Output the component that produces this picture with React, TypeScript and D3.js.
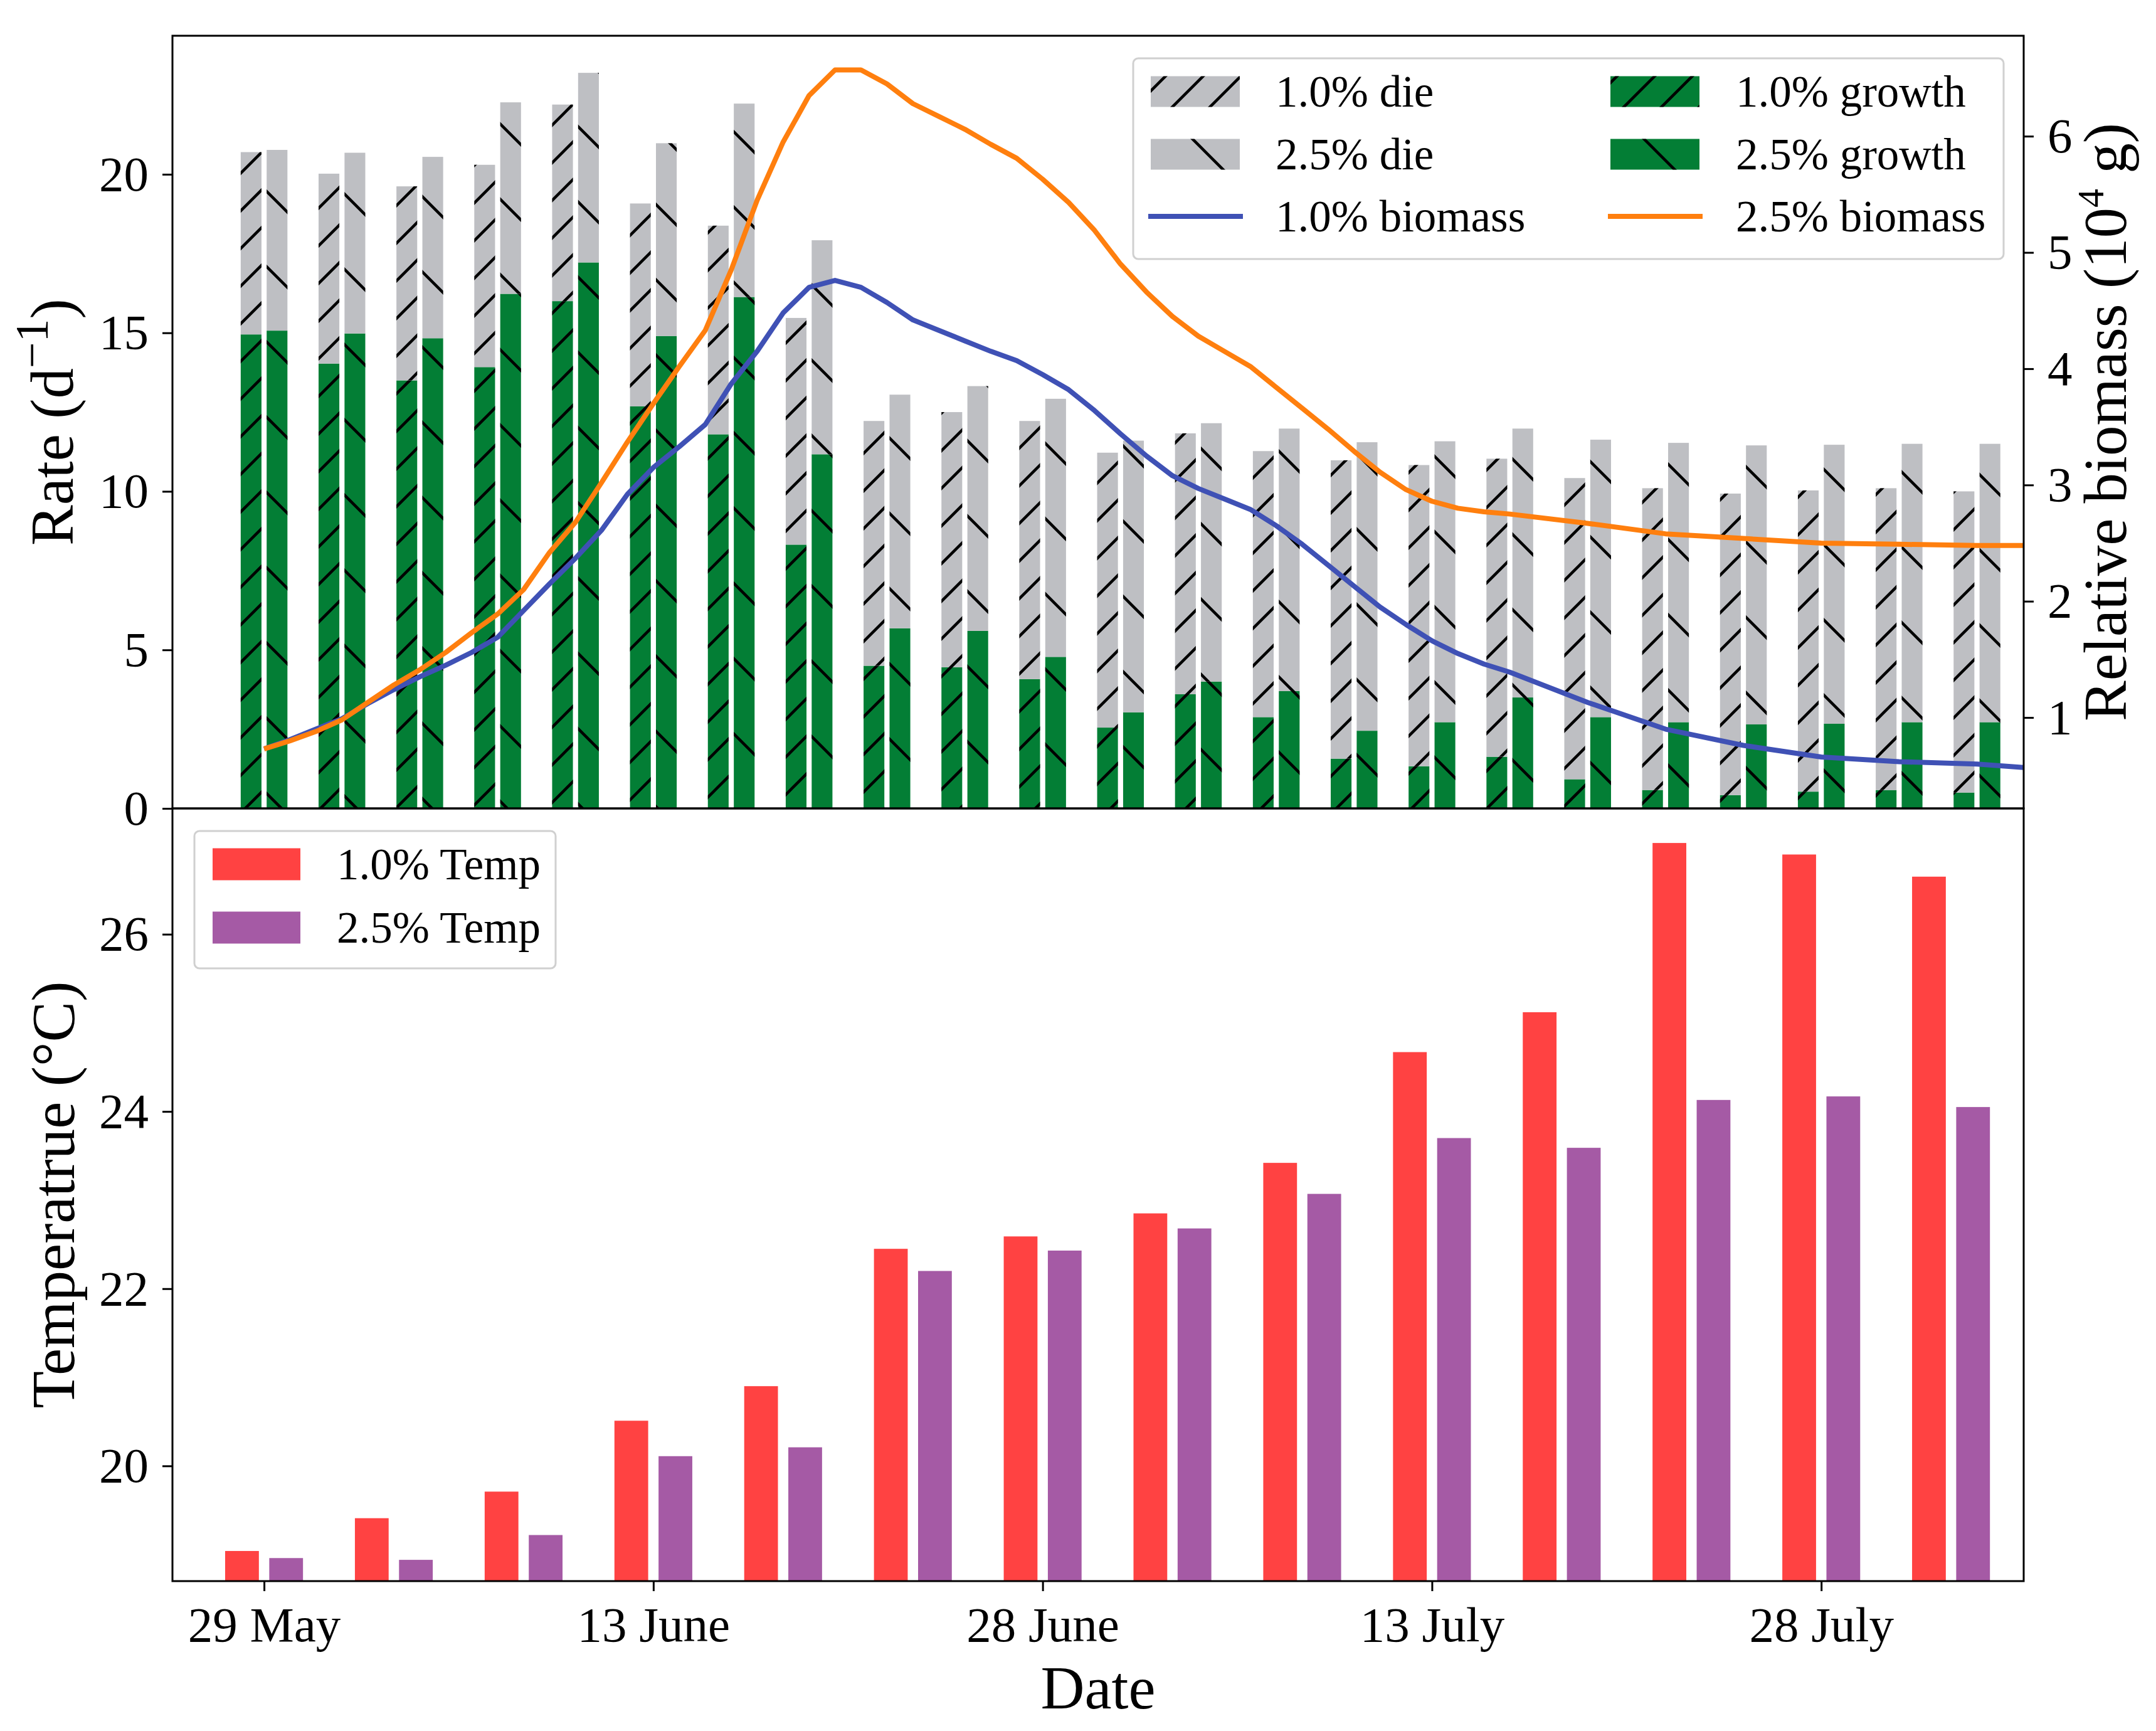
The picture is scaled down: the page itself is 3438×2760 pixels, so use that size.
import * as d3 from 'd3';
import { useEffect, useRef } from 'react';

// days after 29 May for the rate bars (one pair every 3 days)
const rateDays = [0, 3, 6, 9, 12, 15, 18, 21, 24, 27, 30, 33, 36, 39, 42, 45, 48, 51, 54, 57, 60, 63, 66];
const growth10 = [14.95, 14.03, 13.5, 13.92, 16.0, 12.68, 11.8, 8.32, 4.5, 4.45, 4.08, 2.55, 3.6, 2.88, 1.57, 1.33, 1.63, 0.92, 0.58, 0.42, 0.53, 0.58, 0.5];
const die10 = [5.75, 5.99, 6.12, 6.38, 6.2, 6.4, 6.58, 7.15, 7.72, 8.05, 8.14, 8.67, 8.23, 8.39, 9.41, 9.5, 9.4, 9.5, 9.52, 9.51, 9.5, 9.52, 9.5];
const growth25 = [15.07, 14.98, 14.83, 16.23, 17.22, 14.9, 16.13, 11.17, 5.68, 5.6, 4.78, 3.03, 4.0, 3.7, 2.45, 2.72, 3.5, 2.88, 2.72, 2.65, 2.67, 2.72, 2.72];
const die25 = [5.7, 5.7, 5.72, 6.04, 5.98, 6.08, 6.1, 6.75, 7.37, 7.72, 8.14, 8.57, 8.15, 8.28, 9.1, 8.86, 8.48, 8.75, 8.81, 8.8, 8.8, 8.78, 8.78];

// relative biomass (10^4 g)
const bioDays = [
  0, 1, 2, 3, 4, 5, 6, 7, 8, 9, 10, 11, 12, 13, 14, 15, 16, 17, 18, 19, 20, 21, 22, 23, 24,
  25, 26, 27, 28, 29, 30, 31, 32, 33, 34, 35, 36, 37, 38, 39, 40, 41, 42, 43, 44, 45, 46, 47, 48,
  51, 54, 57, 60, 63, 66, 67.8,
];
const bio10 = [
  0.73, 0.81, 0.9, 0.99, 1.12, 1.24, 1.35, 1.45, 1.56, 1.69, 1.92, 2.15, 2.37, 2.61, 2.92, 3.15, 3.33, 3.52, 3.87, 4.15, 4.48, 4.7, 4.76, 4.7, 4.57,
  4.42, 4.33, 4.24, 4.15, 4.07, 3.95, 3.82, 3.64, 3.44, 3.25, 3.08, 2.97, 2.88, 2.79, 2.65, 2.49, 2.31, 2.13, 1.95, 1.8, 1.66, 1.55, 1.46, 1.39,
  1.13, 0.9, 0.76, 0.66, 0.62, 0.6, 0.57,
];
const bio25 = [
  0.73, 0.8, 0.88, 0.98, 1.13, 1.28, 1.41, 1.56, 1.73, 1.89, 2.1, 2.42, 2.68, 3.02, 3.37, 3.7, 4.02, 4.33, 4.85, 5.45, 5.95, 6.35, 6.57, 6.57, 6.45,
  6.28, 6.17, 6.06, 5.93, 5.81, 5.63, 5.43, 5.19, 4.9, 4.66, 4.45, 4.28, 4.15, 4.02, 3.84, 3.66, 3.48, 3.29, 3.11, 2.96, 2.86, 2.8, 2.77, 2.75,
  2.67, 2.58, 2.54, 2.5, 2.49, 2.48, 2.48,
];

// temperature, every 5 days
const tempDays = [0, 5, 10, 15, 20, 25, 30, 35, 40, 45, 50, 55, 60, 65];
const temp10 = [19.04, 19.41, 19.71, 20.51, 20.9, 22.45, 22.59, 22.85, 23.42, 24.67, 25.12, 27.03, 26.9, 26.65];
const temp25 = [18.96, 18.94, 19.22, 20.11, 20.21, 22.2, 22.43, 22.68, 23.07, 23.7, 23.59, 24.13, 24.17, 24.05];

const dateTickDays = [0, 15, 30, 45, 60];
const dateLabels = ['29 May', '13 June', '28 June', '13 July', '28 July'];
const rateTicks = [0, 5, 10, 15, 20];
const bioTicks = [1, 2, 3, 4, 5, 6];
const tempTicks = [20, 22, 24, 26];

const W = 3438;
const H = 2760;
const FONT = '"Liberation Serif", "Times New Roman", serif';

const GREEN = '#037e35';
const GRAY = '#bebfc3';
const BLUE = '#3f51b5';
const ORANGE = '#ff7f0e';
const RED = '#ff4242';
const PURPLE = '#a55aa5';

export default function App() {
  const ref = useRef<SVGSVGElement | null>(null);

  useEffect(() => {
    const svg = d3.select(ref.current);
    svg.selectAll('*').remove();
    svg.append('rect').attr('width', W).attr('height', H).attr('fill', '#fff');

    const L = 275;
    const R = 3227;
    const T1 = 57;
    const B1 = 1289;
    const B2 = 2521;

    const defs = svg.append('defs');
    defs.append('pattern').attr('id', 'hFwd').attr('patternUnits', 'userSpaceOnUse').attr('width', 60).attr('height', 60)
      .append('path').attr('d', 'M0,60L60,0M-15,15L15,-15M45,75L75,45').attr('stroke', '#000').attr('stroke-width', 4.5);
    defs.append('pattern').attr('id', 'hBack').attr('patternUnits', 'userSpaceOnUse').attr('width', 120).attr('height', 120)
      .append('path').attr('d', 'M0,0L120,120M-30,90L30,150M90,-30L150,30').attr('stroke', '#000').attr('stroke-width', 4.5);

    const x = d3.scaleLinear().domain([-3.53, 67.8]).range([L, R]);
    const yRate = d3.scaleLinear().domain([0, 24.37]).range([B1, T1]);
    const yBio = d3.scaleLinear().domain([0.218, 6.864]).range([B1, T1]);
    const yTemp = d3.scaleLinear().domain([18.7, 27.42]).range([B2, B1]);
    const dayW = x(1) - x(0);

    // ---- top panel bars ----
    const top = svg.append('g');
    const series = [
      { off: -0.5, growth: growth10, die: die10, hatch: 'url(#hFwd)' },
      { off: 0.5, growth: growth25, die: die25, hatch: 'url(#hBack)' },
    ];
    series.forEach((s) => {
      rateDays.forEach((d, i) => {
        const bx = x(d + s.off) - 0.4 * dayW;
        const bw = 0.8 * dayW;
        const g = s.growth[i];
        const t = g + s.die[i];
        const segs = [
          { y0: 0, y1: g, fill: GREEN },
          { y0: g, y1: t, fill: GRAY },
        ];
        segs.forEach((sg) => {
          const ry = yRate(sg.y1);
          const rh = yRate(sg.y0) - yRate(sg.y1);
          top.append('rect').attr('x', bx).attr('y', ry).attr('width', bw).attr('height', rh).attr('fill', sg.fill);
          top.append('rect').attr('x', bx).attr('y', ry).attr('width', bw).attr('height', rh).attr('fill', s.hatch);
        });
      });
    });

    const line = (vals: number[]) =>
      d3.line<number>().x((_, i) => x(bioDays[i])).y((v) => yBio(v))(vals);
    top.append('path').attr('d', line(bio10)).attr('fill', 'none').attr('stroke', BLUE).attr('stroke-width', 8).attr('stroke-linejoin', 'round');
    top.append('path').attr('d', line(bio25)).attr('fill', 'none').attr('stroke', ORANGE).attr('stroke-width', 8).attr('stroke-linejoin', 'round');

    // ---- bottom panel bars ----
    const bot = svg.append('g');
    [
      { off: -0.85, vals: temp10, fill: RED },
      { off: 0.85, vals: temp25, fill: PURPLE },
    ].forEach((s) => {
      bot.selectAll(null)
        .data(s.vals)
        .enter()
        .append('rect')
        .attr('x', (_, i) => x(tempDays[i] + s.off) - 0.65 * dayW)
        .attr('width', 1.3 * dayW)
        .attr('y', (v) => yTemp(v))
        .attr('height', (v) => B2 - yTemp(v))
        .attr('fill', s.fill);
    });

    // ---- axes ----
    const styleAxis = (g: d3.Selection<SVGGElement, unknown, null, undefined>) => {
      g.select('.domain').remove();
      g.selectAll('line').attr('stroke', '#000').attr('stroke-width', 3);
      g.selectAll('text').attr('font-family', FONT).attr('font-size', 79).attr('fill', '#000');
    };
    svg.append('g').attr('transform', `translate(${L},0)`)
      .call(d3.axisLeft(yRate).tickValues(rateTicks).tickSize(16).tickPadding(22).tickFormat(d3.format('d')))
      .call(styleAxis);
    svg.append('g').attr('transform', `translate(${R},0)`)
      .call(d3.axisRight(yBio).tickValues(bioTicks).tickSize(16).tickPadding(22).tickFormat(d3.format('d')))
      .call(styleAxis);
    svg.append('g').attr('transform', `translate(${L},0)`)
      .call(d3.axisLeft(yTemp).tickValues(tempTicks).tickSize(16).tickPadding(22).tickFormat(d3.format('d')))
      .call(styleAxis);
    svg.append('g').attr('transform', `translate(0,${B2})`)
      .call(d3.axisBottom(x).tickValues(dateTickDays).tickSize(16).tickPadding(24).tickFormat((_, i) => dateLabels[i]))
      .call(styleAxis);

    [
      [T1, B1],
      [B1, B2],
    ].forEach(([a, b]) => {
      svg.append('rect').attr('x', L).attr('y', a).attr('width', R - L).attr('height', b - a)
        .attr('fill', 'none').attr('stroke', '#000').attr('stroke-width', 3);
    });

    // ---- axis titles ----
    const rl = svg.append('text').attr('transform', `translate(116,673) rotate(-90)`).attr('text-anchor', 'middle')
      .attr('font-family', FONT).attr('font-size', 97);
    rl.append('tspan').text('Rate (d');
    rl.append('tspan').attr('dy', -40).attr('font-size', 74).text('\u22121');
    rl.append('tspan').attr('dy', 40).text(')');

    svg.append('text').attr('transform', `translate(118,1905) rotate(-90)`).attr('text-anchor', 'middle')
      .attr('font-family', FONT).attr('font-size', 97).text('Temperatrue (°C)');

    const bl = svg.append('text').attr('transform', `translate(3390,673) rotate(-90)`).attr('text-anchor', 'middle')
      .attr('font-family', FONT).attr('font-size', 97);
    bl.append('tspan').text('Relative biomass (10');
    bl.append('tspan').attr('dy', -36).attr('font-size', 60).text('4');
    bl.append('tspan').attr('dy', 36).text(' g)');

    svg.append('text').attr('x', (L + R) / 2).attr('y', 2724).attr('text-anchor', 'middle')
      .attr('font-family', FONT).attr('font-size', 97).text('Date');

    // ---- legends ----
    const frame = (lx: number, ly: number, lw: number, lh: number) =>
      svg.append('rect').attr('x', lx).attr('y', ly).attr('width', lw).attr('height', lh).attr('rx', 8)
        .attr('fill', '#fff').attr('fill-opacity', 0.8).attr('stroke', '#d0d0d0').attr('stroke-width', 3);

    frame(1807, 93, 1388, 320);
    const topLegend = [
      { col: 0, row: 0, label: '1.0% die', fill: GRAY, hatch: 'url(#hFwd)' },
      { col: 0, row: 1, label: '2.5% die', fill: GRAY, hatch: 'url(#hBack)' },
      { col: 0, row: 2, label: '1.0% biomass', stroke: BLUE },
      { col: 1, row: 0, label: '1.0% growth', fill: GREEN, hatch: 'url(#hFwd)' },
      { col: 1, row: 1, label: '2.5% growth', fill: GREEN, hatch: 'url(#hBack)' },
      { col: 1, row: 2, label: '2.5% biomass', stroke: ORANGE },
    ];
    const colX = [1835, 2568];
    const textX = [2034, 2768];
    const rowY = [146, 246, 345];
    topLegend.forEach((e) => {
      const px = colX[e.col];
      const cy = rowY[e.row];
      if (e.stroke) {
        svg.append('line').attr('x1', px - 4).attr('x2', px + 147).attr('y1', cy).attr('y2', cy)
          .attr('stroke', e.stroke).attr('stroke-width', 8);
      } else {
        svg.append('rect').attr('x', px).attr('y', cy - 24.5).attr('width', 142).attr('height', 49).attr('fill', e.fill!);
        svg.append('rect').attr('x', px).attr('y', cy - 24.5).attr('width', 142).attr('height', 49).attr('fill', e.hatch!);
      }
      svg.append('text').attr('x', textX[e.col]).attr('y', cy + 24).attr('font-family', FONT).attr('font-size', 71).text(e.label);
    });

    frame(310, 1325, 576, 219);
    [
      { label: '1.0% Temp', fill: RED, cy: 1378 },
      { label: '2.5% Temp', fill: PURPLE, cy: 1479 },
    ].forEach((e) => {
      svg.append('rect').attr('x', 339).attr('y', e.cy - 25.5).attr('width', 140).attr('height', 51).attr('fill', e.fill);
      svg.append('text').attr('x', 537).attr('y', e.cy + 24).attr('font-family', FONT).attr('font-size', 71).text(e.label);
    });
  }, []);

  return (
    <svg
      ref={ref}
      width={W}
      height={H}
      style={{ position: 'absolute', left: 0, top: 0, display: 'block' }}
      role="img"
      aria-label="Rate, biomass and temperature"
    />
  );
}
